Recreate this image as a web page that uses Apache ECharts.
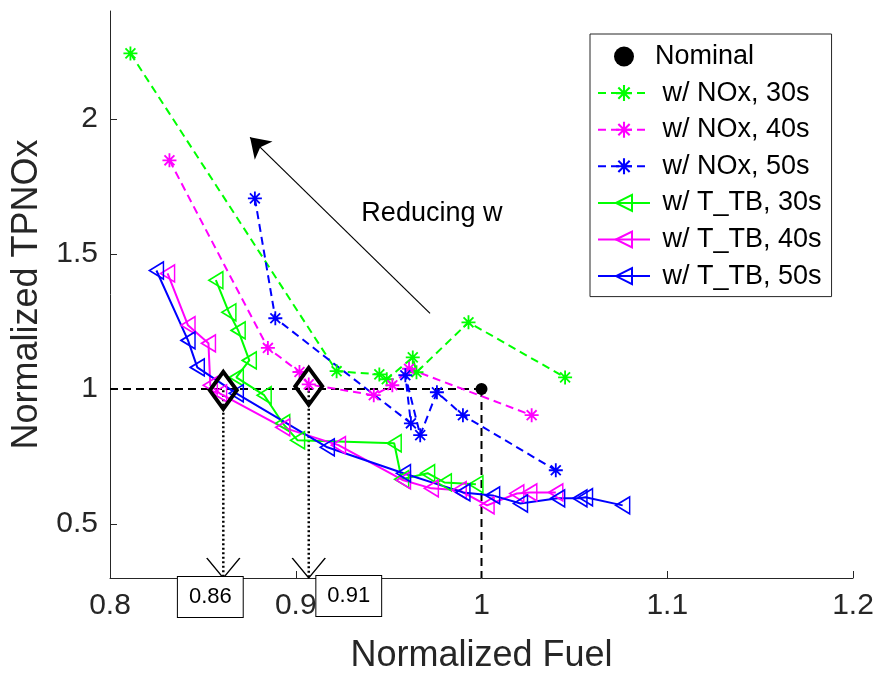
<!DOCTYPE html>
<html>
<head>
<meta charset="utf-8">
<script src="https://cdn.jsdelivr.net/npm/echarts@6/dist/echarts.min.js"></script>
<style>
  html, body { margin: 0; padding: 0; background: #ffffff; }
  #chart { width: 878px; height: 673px; }
</style>
</head>
<body>
<div id="chart"></div>
<script>
// Axis ticks
const xTicks = [0.8, 0.9, 1, 1.1, 1.2];
const yTicks = [0.5, 1, 1.5, 2];

// Nominal operating point
const nominal = [[1, 1]];

// Trade-off curves, weight tuned on NOx (dashed, asterisks)
const nox30 = [[0.811, 2.243], [0.922, 1.066], [0.945, 1.054], [0.949, 1.036], [0.963, 1.117], [0.965, 1.062], [0.993, 1.247], [1.045, 1.043]];
const nox40 = [[0.832, 1.847], [0.885, 1.152], [0.902, 1.063], [0.907, 1.017], [0.942, 0.977], [0.952, 1.014], [0.961, 1.075], [1.027, 0.903]];
const nox50 = [[0.878, 1.706], [0.889, 1.262], [0.962, 0.873], [0.959, 1.051], [0.967, 0.829], [0.976, 0.988], [0.990, 0.903], [1.040, 0.699]];

// Trade-off curves, weight tuned on T_TB (solid, triangles)
const ttb30 = [[0.857, 1.403], [0.864, 1.284], [0.869, 1.217], [0.875, 1.106], [0.868, 1.043], [0.883, 0.977], [0.893, 0.873], [0.901, 0.810], [0.953, 0.799], [0.957, 0.666], [0.971, 0.688], [0.980, 0.654], [0.997, 0.647]];
const ttb40 = [[0.831, 1.428], [0.842, 1.236], [0.853, 1.169], [0.854, 1.014], [0.859, 0.984], [0.893, 0.858], [0.923, 0.792], [0.958, 0.662], [0.973, 0.632], [0.988, 0.625], [1.003, 0.569], [1.019, 0.613], [1.026, 0.617], [1.040, 0.617]];
const ttb50 = [[0.825, 1.439], [0.842, 1.180], [0.847, 1.080], [0.868, 0.984], [0.917, 0.784], [0.958, 0.688], [0.990, 0.617], [1.006, 0.606], [1.021, 0.576], [1.041, 0.595], [1.053, 0.595], [1.056, 0.599], [1.076, 0.569]];

// Selected designs with equal TPNOx
const selected = [[0.861, 0.995], [0.907, 1.01]];

// Annotation arrow (tail, head) and its caption position
const arrowTail = [0.9723, 1.280];
const arrowHead = [0.8754, 1.932];
const captionPos = [0.9733, 1.651];
const captionText = 'Reducing w';

const yMin = 0.3, yMax = 2.4;
const xMin = 0.8, xMax = 1.2;

const FONT = '"Liberation Sans", Arial, Helvetica, sans-serif';
const AXIS_COLOR = '#262626';
const GREEN = '#00ff00', MAGENTA = '#ff00ff', BLUE = '#0000ff';

const ASTERISK = 'path://M8.7,0 L11.3,0 L11.3,20 L8.7,20 Z M0,8.7 L20,8.7 L20,11.3 L0,11.3 Z ' +
  'M3.85,2.01 L17.99,16.15 L16.15,17.99 L2.01,3.85 Z M16.15,2.01 L17.99,3.85 L3.85,17.99 L2.01,16.15 Z';
const TRI_LEFT = 'path://M0,10 L16,0 L16,20 Z';
const V_HEAD = 'path://M0,0 L16,20 L32,0';

function noxSeries(name, data, color) {
  return {
    name: name, type: 'line', data: data,
    symbol: ASTERISK, symbolSize: 14, showAllSymbol: true,
    itemStyle: { color: color, opacity: 1 },
    lineStyle: { color: color, width: 2, type: [8, 5] },
    silent: true, animation: false, z: 3
  };
}
function ttbSeries(name, data, color) {
  return {
    name: name, type: 'line', data: data,
    symbol: TRI_LEFT, symbolSize: [14, 17], showAllSymbol: true,
    itemStyle: { color: 'rgba(0,0,0,0)', borderColor: color, borderWidth: 1.6, opacity: 1 },
    lineStyle: { color: color, width: 2, type: 'solid' },
    silent: true, animation: false, z: 4
  };
}

const chart = echarts.init(document.getElementById('chart'), null, { renderer: 'canvas' });

const legendNames = ['Nominal', 'w/ NOx, 30s', 'w/ NOx, 40s', 'w/ NOx, 50s', 'w/ T_TB, 30s', 'w/ T_TB, 40s', 'w/ T_TB, 50s'];

const option = {
  backgroundColor: '#ffffff',
  animation: false,
  grid: { left: 110, right: 25, top: 11, bottom: 95, containLabel: false, outerBoundsMode: 'none' },
  xAxis: {
    type: 'value', min: xMin, max: xMax, interval: 0.1,
    name: 'Normalized Fuel', nameLocation: 'middle', nameGap: 60,
    nameTextStyle: { fontSize: 36, fontFamily: FONT, color: AXIS_COLOR },
    axisLine: { show: true, onZero: false, lineStyle: { color: AXIS_COLOR, width: 1 } },
    axisTick: { show: true, inside: true, length: 7, lineStyle: { color: AXIS_COLOR } },
    axisLabel: { fontSize: 30, fontFamily: FONT, color: AXIS_COLOR, margin: 13 },
    splitLine: { show: false }
  },
  yAxis: {
    type: 'value', min: yMin, max: yMax,
    name: 'Normalized TPNOx', nameLocation: 'middle', nameGap: 51,
    nameTextStyle: { fontSize: 36, fontFamily: FONT, color: AXIS_COLOR },
    axisLine: { show: true, onZero: false, lineStyle: { color: AXIS_COLOR, width: 1 } },
    axisTick: { show: true, inside: true, length: 7, lineStyle: { color: AXIS_COLOR }, customValues: yTicks },
    axisLabel: { fontSize: 30, fontFamily: FONT, color: AXIS_COLOR, margin: 12, customValues: yTicks },
    splitLine: { show: false }
  },
  legend: {
    data: legendNames,
    orient: 'vertical', left: 590, top: 34,
    itemWidth: 52, itemHeight: 20, itemGap: 9.6,
    padding: [9, 10, 7, 7],
    borderColor: AXIS_COLOR, borderWidth: 1, backgroundColor: '#ffffff',
    selectedMode: false,
    textStyle: { fontSize: 27, fontFamily: FONT, color: '#000', lineHeight: 27 },
    formatter: function (n) { return n === 'Nominal' ? n : ' ' + n; }
  },
  series: [
    // dashed reference lines through the nominal point
    {
      name: 'ref-h', type: 'line', data: [[xMin, nominal[0][1]], nominal[0]],
      symbol: 'none', lineStyle: { color: '#000', width: 2, type: [8, 5] }, silent: true, z: 1,
      markLine: {
        silent: true, symbol: ['none', 'arrow'], symbolSize: 19,
        lineStyle: { color: '#000', width: 1.2, type: 'solid', opacity: 1 },
        itemStyle: { color: '#000', opacity: 1 },
        label: { show: false },
        data: [[{ coord: arrowTail }, { coord: arrowHead }]]
      }
    },
    {
      name: 'ref-v', type: 'line', data: [nominal[0], [nominal[0][0], yMin]],
      symbol: 'none', lineStyle: { color: '#000', width: 2, type: [8, 5] }, silent: true, z: 1
    },
    // dotted drop lines from the selected designs
    {
      name: 'drop-1', type: 'line', data: [selected[0], [selected[0][0], yMin]],
      symbol: 'none', lineStyle: { color: '#000', width: 2.5, type: [2, 2.5] }, silent: true, z: 1
    },
    {
      name: 'drop-2', type: 'line', data: [selected[1], [selected[1][0], yMin]],
      symbol: 'none', lineStyle: { color: '#000', width: 2.5, type: [2, 2.5] }, silent: true, z: 1
    },
    noxSeries('w/ NOx, 30s', nox30, GREEN),
    noxSeries('w/ NOx, 40s', nox40, MAGENTA),
    noxSeries('w/ NOx, 50s', nox50, BLUE),
    ttbSeries('w/ T_TB, 30s', ttb30, GREEN),
    ttbSeries('w/ T_TB, 40s', ttb40, MAGENTA),
    ttbSeries('w/ T_TB, 50s', ttb50, BLUE),
    {
      name: 'Nominal', type: 'scatter', data: nominal,
      symbol: 'circle', symbolSize: 12, itemStyle: { color: '#000', opacity: 1 }, silent: true, z: 5
    },
    {
      name: 'selected', type: 'scatter', data: selected,
      symbol: 'diamond', symbolSize: [27, 37],
      itemStyle: { color: 'rgba(0,0,0,0)', borderColor: '#000', borderWidth: 4, opacity: 1 },
      silent: true, z: 6
    },
    // open arrow heads where the drop lines meet the axis
    {
      name: 'heads', type: 'scatter', data: selected.map(function (p) { return [p[0], yMin]; }),
      symbol: V_HEAD, symbolSize: [33, 20], symbolOffset: [0, -10],
      itemStyle: { color: 'rgba(0,0,0,0)', borderColor: '#000', borderWidth: 1.2, opacity: 1 },
      silent: true, z: 6
    },
    // value boxes under the axis
    {
      name: 'boxes', type: 'scatter',
      data: [
        { value: [selected[0][0], yMin], label: { offset: [-13, 19] } },
        { value: [selected[1][0], yMin], label: { offset: [40, 18] } }
      ],
      symbol: 'circle', symbolSize: 1, itemStyle: { color: 'rgba(0,0,0,0)', opacity: 1 },
      label: {
        show: true, position: 'inside',
        formatter: function (p) { return p.value[0].toFixed(2); },
        fontSize: 22, fontFamily: FONT, color: '#000', lineHeight: 24,
        backgroundColor: '#fff', borderColor: '#000', borderWidth: 1, padding: [8, 11]
      },
      silent: true, z: 7
    },
    // caption next to the arrow
    {
      name: 'caption', type: 'scatter', data: [captionPos],
      symbol: 'circle', symbolSize: 1, itemStyle: { color: 'rgba(0,0,0,0)', opacity: 1 },
      label: { show: true, position: 'inside', formatter: captionText, fontSize: 27, fontFamily: FONT, color: '#000' },
      silent: true, z: 7
    }
  ]
};

chart.setOption(option);
</script>
</body>
</html>
